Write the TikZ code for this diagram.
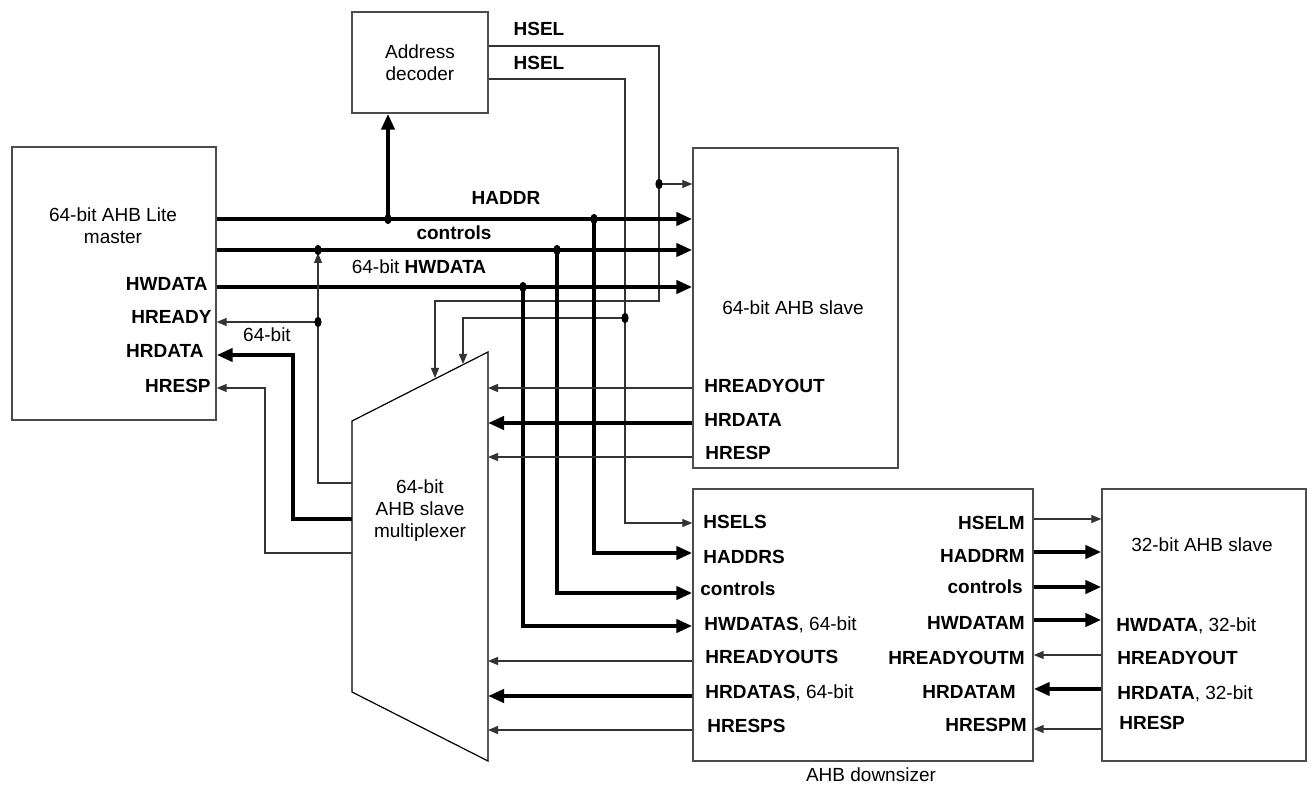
\documentclass[tikz,border=0pt]{standalone}
\usepackage{fontspec}
\setmainfont{Liberation Sans}
\usetikzlibrary{arrows.meta}

\begin{document}
\begin{tikzpicture}[x=0.5pt, y=-0.5pt,
  font=\fontsize{9.5}{11}\selectfont,
  blk/.style={draw=black!70, line width=0.7pt, inner sep=0pt},
  sig/.style={draw=black!80, line width=0.6pt, -{Triangle[length=5pt,width=4pt]}},
  wire/.style={draw=black!80, line width=0.6pt},
  bus/.style={draw=black, line width=2pt, -{Triangle[length=8pt,width=6.5pt]}},
  busline/.style={draw=black, line width=2pt},
  lbl/.style={inner sep=0pt, text height=6.8pt, text depth=0pt, font=\fontsize{9.5}{11}\selectfont\bfseries}]

  \useasboundingbox (0,0) rectangle (1309,785);

  % --- Bloques ---
  \node[blk, minimum width=102pt, minimum height=136.5pt] (master) at (114,283.5) {};
  \node[blk, minimum width=68pt,  minimum height=50.5pt]  (dec)    at (420,62.5) {};
  \node[blk, minimum width=102.5pt, minimum height=160pt] (slv64)  at (795.5,308) {};
  \node[blk, minimum width=170pt, minimum height=136pt]   (dsz)    at (863,625) {};
  \node[blk, minimum width=102pt, minimum height=136pt]   (slv32)  at (1204,625) {};

  % --- Multiplexor (trapecio) ---
  \coordinate (mux-tl) at (352,421);
  \coordinate (mux-tr) at (488,352);
  \coordinate (mux-br) at (488,761);
  \coordinate (mux-bl) at (352,692);
  \draw[black, line width=0.6pt] (mux-tl) -- (mux-tr) -- (mux-br) -- (mux-bl) -- cycle;

  % --- Textos de los bloques ---
  \node[align=center] (t-master) at (113,226) {64-bit AHB Lite\\master};
  \node[align=center] (t-dec)    at (420,63)  {Address\\decoder};
  \node               (t-slv64)  at (793,308) {64-bit AHB slave};
  \node[align=center] (t-mux)    at (420,511) {64-bit\\AHB slave\\multiplexer};
  \node               (t-slv32)  at (1202,545) {32-bit AHB slave};
  \node               (t-dsz)    at (871,775) {AHB downsizer};

  % --- Puntos de union ---
  \coordinate (j-dec)   at (388,219);
  \coordinate (j-haddr) at (594,219);
  \coordinate (j-ctl)   at (557,250);
  \coordinate (j-wdata) at (523,287);
  \coordinate (j-up)    at (318,250);
  \coordinate (j-ready) at (318,322);
  \coordinate (j-sel1)  at (659,184);
  \coordinate (j-sel2)  at (625,318);

  % --- HSEL desde el decodificador ---
  \draw[wire] (dec.east |- 0,46) -- (659,46) -- (j-sel1);
  \draw[sig]  (j-sel1) -- (slv64.west |- j-sel1);
  \draw[sig]  (j-sel1) -- (659,301) -- (435,301) -- (435,378);
  \draw[wire] (dec.east |- 0,79) -- (625,79) -- (j-sel2);
  \draw[sig]  (j-sel2) -- (463,318) -- (463,364);
  \draw[sig]  (j-sel2) -- (625,523) -- (dsz.west |- 0,523);

  % --- Buses del maestro ---
  \draw[bus] (master.east |- 0,219) -- (slv64.west |- 0,219);
  \draw[bus] (master.east |- 0,250) -- (slv64.west |- 0,250);
  \draw[bus] (master.east |- 0,287) -- (slv64.west |- 0,287);
  \draw[bus] (j-dec) -- (dec.south -| j-dec);
  \draw[bus] (j-haddr) -- (594,553) -- (dsz.west |- 0,553);
  \draw[bus] (j-ctl)   -- (557,593) -- (dsz.west |- 0,593);
  \draw[bus] (j-wdata) -- (523,626) -- (dsz.west |- 0,626);

  % --- Retorno del multiplexor al maestro ---
  \draw[sig] (mux-tl |- 0,483) -- (318,483) -- (318,253);
  \draw[sig] (j-ready) -- (master.east |- j-ready);
  \draw[bus] (mux-tl |- 0,519) -- (293,519) -- (293,355) -- (master.east |- 0,355);
  \draw[sig] (mux-tl |- 0,553) -- (265,553) -- (265,388) -- (master.east |- 0,388);

  % --- Esclavo de 64 bits al multiplexor ---
  \draw[sig] (slv64.west |- 0,388) -- (mux-tr |- 0,388);
  \draw[bus] (slv64.west |- 0,423) -- (mux-tr |- 0,423);
  \draw[sig] (slv64.west |- 0,457) -- (mux-tr |- 0,457);

  % --- Downsizer al multiplexor ---
  \draw[sig] (dsz.west |- 0,661) -- (mux-br |- 0,661);
  \draw[bus] (dsz.west |- 0,696) -- (mux-br |- 0,696);
  \draw[sig] (dsz.west |- 0,730) -- (mux-br |- 0,730);

  % --- Downsizer <-> esclavo de 32 bits ---
  \draw[sig] (dsz.east |- 0,519) -- (slv32.west |- 0,519);
  \draw[bus] (dsz.east |- 0,552) -- (slv32.west |- 0,552);
  \draw[bus] (dsz.east |- 0,587) -- (slv32.west |- 0,587);
  \draw[bus] (dsz.east |- 0,620) -- (slv32.west |- 0,620);
  \draw[sig] (slv32.west |- 0,655) -- (dsz.east |- 0,655);
  \draw[bus] (slv32.west |- 0,689) -- (dsz.east |- 0,689);
  \draw[sig] (slv32.west |- 0,729) -- (dsz.east |- 0,729);

  % --- Puntos ---
  \foreach \p in {j-dec,j-haddr,j-ctl,j-wdata,j-up,j-ready,j-sel1,j-sel2}
    \fill[black] (\p) ellipse[x radius=1.8pt, y radius=2.6pt];

  % --- Etiquetas de senales ---
  \node[lbl] (l-sel1) at (539,29) {HSEL};
  \node[lbl] (l-sel2) at (539,63) {HSEL};
  \node[lbl] (l-addr) at (506,198) {HADDR};
  \node[lbl] (l-ctl)  at (454,233) {controls};
  \node[lbl] (l-wd)   at (419,267) {\mdseries 64-bit \bfseries HWDATA};
  \node[lbl] (l-64)   at (267,335) {\mdseries 64-bit};

  \node[lbl, anchor=east] (m-wd) at (208,284) {HWDATA};
  \node[lbl, anchor=east] (m-rd) at (212,317) {HREADY};
  \node[lbl, anchor=east] (m-rdat) at (204,351) {HRDATA};
  \node[lbl, anchor=east] (m-rsp) at (211,386) {HRESP};

  \node[lbl, anchor=west] (s-ro)  at (704,386) {HREADYOUT};
  \node[lbl, anchor=west] (s-rd)  at (704,420) {HRDATA};
  \node[lbl, anchor=west] (s-rsp) at (705,453) {HRESP};

  \node[lbl, anchor=west] (ds-sel) at (703,522) {HSELS};
  \node[lbl, anchor=west] (ds-adr) at (703,557) {HADDRS};
  \node[lbl, anchor=west] (ds-ctl) at (700,589) {controls};
  \node[lbl, anchor=west] (ds-wd)  at (704,624) {HWDATAS\mdseries, 64-bit};
  \node[lbl, anchor=west] (ds-ro)  at (705,657) {HREADYOUTS};
  \node[lbl, anchor=west] (ds-rd)  at (705,692) {HRDATAS\mdseries, 64-bit};
  \node[lbl, anchor=west] (ds-rsp) at (707,726) {HRESPS};

  \node[lbl, anchor=east] (dm-sel) at (1025,523) {HSELM};
  \node[lbl, anchor=east] (dm-adr) at (1025,556) {HADDRM};
  \node[lbl, anchor=east] (dm-ctl) at (1023,587) {controls};
  \node[lbl, anchor=east] (dm-wd)  at (1025,623) {HWDATAM};
  \node[lbl, anchor=east] (dm-ro)  at (1025,658) {HREADYOUTM};
  \node[lbl, anchor=east] (dm-rd)  at (1016,692) {HRDATAM};
  \node[lbl, anchor=east] (dm-rsp) at (1027,725) {HRESPM};

  \node[lbl, anchor=west] (t-wd)  at (1116,625) {HWDATA\mdseries, 32-bit};
  \node[lbl, anchor=west] (t-ro)  at (1117,658) {HREADYOUT};
  \node[lbl, anchor=west] (t-rd)  at (1117,693) {HRDATA\mdseries, 32-bit};
  \node[lbl, anchor=west] (t-rsp) at (1119,723) {HRESP};

\end{tikzpicture}
\end{document}
